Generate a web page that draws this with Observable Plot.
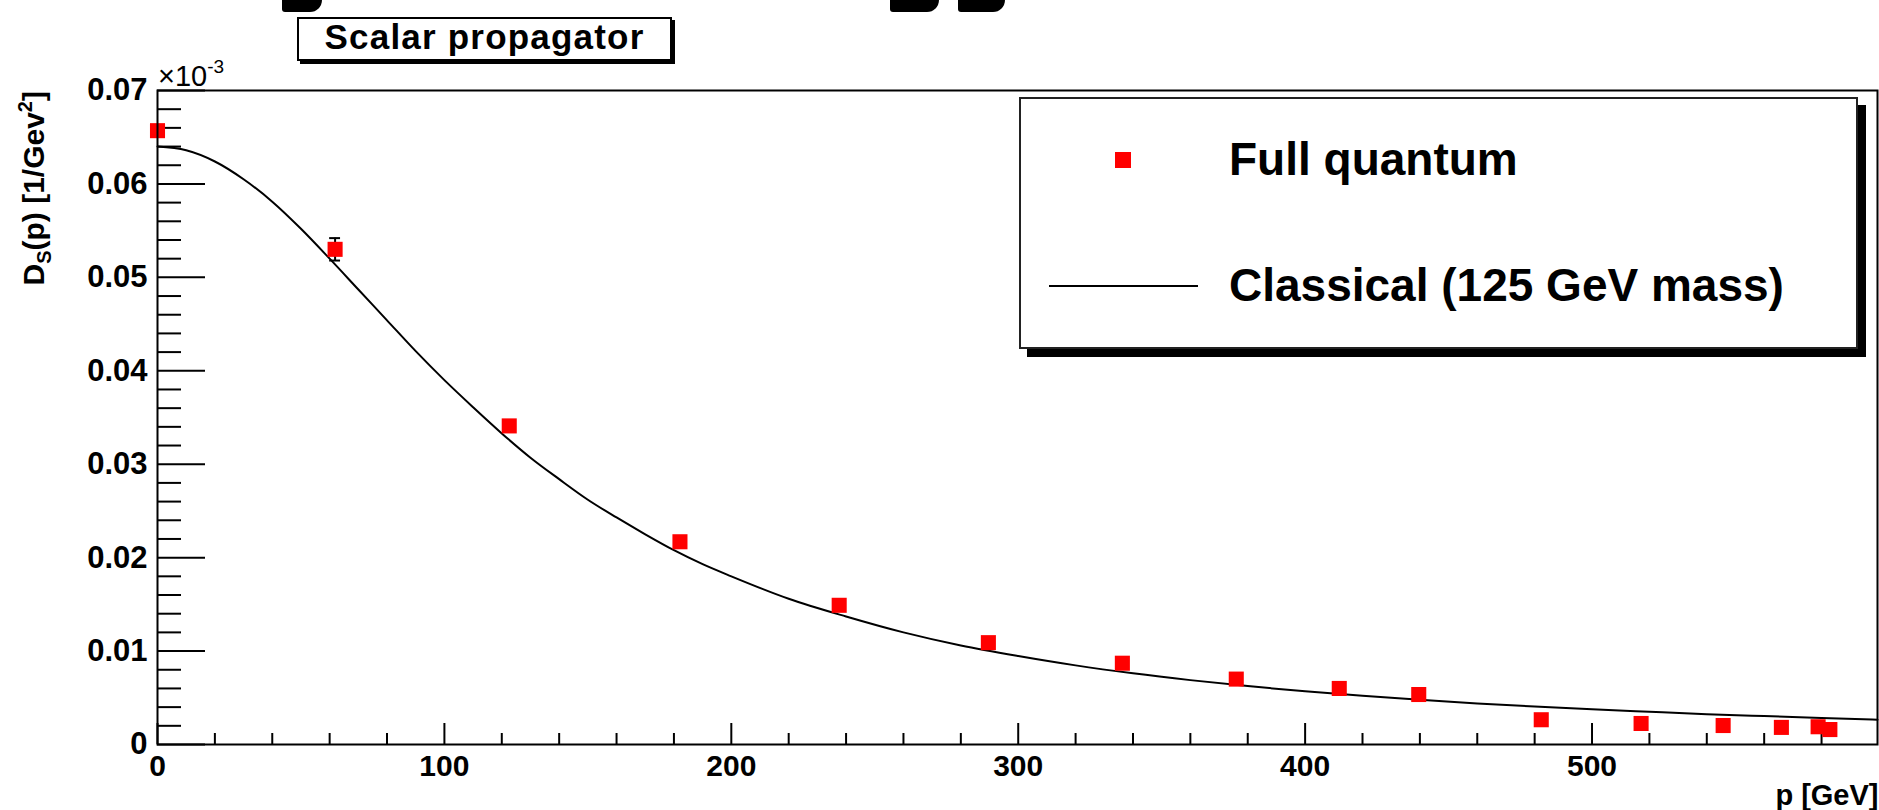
<!DOCTYPE html>
<html>
<head>
<meta charset="utf-8">
<script src="https://cdn.jsdelivr.net/npm/d3@7"></script>
<script src="https://cdn.jsdelivr.net/npm/@observablehq/plot@0.6"></script>
<style>
  body { margin: 0; background: #fff; }
  #wrap { position: relative; width: 1879px; height: 810px; overflow: hidden; background: #fff;
          font-family: "Liberation Sans", Arial, Helvetica, sans-serif; }
  #wrap svg.plot { position: absolute; left: 0; top: 0; }
  .blob { position: absolute; top: -10px; height: 22px; background: #000; border-radius: 0 0 12px 3px; }
  #titlebox { position: absolute; left: 297px; top: 17px; width: 371px; height: 40px;
              border: 2px solid #000; box-shadow: 3px 3px 0 #000; background: #fff; }
  #titlebox span { position: absolute; left: 0; right: 0; top: 0px; height: 35px; text-align: center;
                   font-weight: bold; font-size: 35px; letter-spacing: 1.2px; line-height: 1; white-space: nowrap; }
  #legend { position: absolute; left: 1019px; top: 97px; width: 835px; height: 248px;
            border: 2px solid #222; box-shadow: 8px 8px 0 #000; background: #fff; }
  .legtext { position: absolute; font-weight: bold; font-size: 46px; line-height: 1.149; white-space: nowrap; }
  .legsq { position: absolute; background: #ff0000; }
  .legline { position: absolute; background: #000; }
</style>
</head>
<body>
<div id="wrap"></div>
<script>
// ---- data ----
const momentum = [0, 61.9, 122.6, 182.1, 237.6, 289.6, 336.3, 376.0, 411.9, 439.6, 482.3, 517.1, 545.7, 566.0, 578.8, 582.9];
const quantumD = [0.0657, 0.0530, 0.0341, 0.0217, 0.0149, 0.0109, 0.0087, 0.0070, 0.0060, 0.00535, 0.00265, 0.00225, 0.00203, 0.00183, 0.00190, 0.00160];
const quantumErr = [0, 0.0012, 0, 0, 0, 0, 0, 0, 0, 0, 0, 0, 0, 0, 0, 0];

const classicalP = [0, 10, 20, 30, 40, 50, 60, 70, 80, 90, 100, 110, 120, 130, 140, 150, 160, 170, 180, 190, 200,
                    220, 240, 260, 280, 300, 320, 340, 360, 380, 400, 420, 440, 460, 480, 500, 520, 540, 560, 580, 599.5];
const classicalD = [0.0640, 0.0636, 0.0624, 0.0605, 0.0581, 0.0552, 0.0520, 0.0487, 0.0454, 0.0421, 0.0390,
                    0.0361, 0.0333, 0.0307, 0.0284, 0.0262, 0.0243, 0.0225, 0.0208, 0.0193, 0.0180,
                    0.0156, 0.0137, 0.0120, 0.0106, 0.00947, 0.00847, 0.00762, 0.00689, 0.00625, 0.00569,
                    0.00521, 0.00478, 0.00440, 0.00406, 0.00376, 0.00350, 0.00325, 0.00304, 0.00284, 0.00266];

const yMajorTicks = [0, 0.01, 0.02, 0.03, 0.04, 0.05, 0.06, 0.07];
const yMinorTicks = [0.002, 0.004, 0.006, 0.008, 0.012, 0.014, 0.016, 0.018, 0.022, 0.024, 0.026, 0.028,
                     0.032, 0.034, 0.036, 0.038, 0.042, 0.044, 0.046, 0.048, 0.052, 0.054, 0.056, 0.058,
                     0.062, 0.064, 0.066, 0.068];
const yTickLabels = ["0", "0.01", "0.02", "0.03", "0.04", "0.05", "0.06", "0.07"];
const xMajorTicks = [0, 100, 200, 300, 400, 500];
const xMinorTicks = [20, 40, 60, 80, 120, 140, 160, 180, 220, 240, 260, 280, 320, 340, 360, 380,
                     420, 440, 460, 480, 520, 540, 560, 580];
const xTickLabels = ["0", "100", "200", "300", "400", "500"];

const titleText = "Scalar propagator";
const xTitle = "p [GeV]";
const legendLabels = ["Full quantum", "Classical (125 GeV mass)"];

// ---- build tables ----
const points = momentum.map((p, i) => ({p, d: quantumD[i], e: quantumErr[i]}));
const errPoints = points.filter(d => d.e > 0);
const classical = classicalP.map((p, i) => ({p, d: classicalD[i]}));

const W = 1879, H = 810, ML = 157, MR = 2, MT = 90, MB = 66;
const FW = W - ML - MR, FH = H - MT - MB;
const FONT = '"Liberation Sans", Arial, Helvetica, sans-serif';

function yTitleMark() {
  return (index, scales, values, dims) => {
    const t = d3.create("svg:text")
      .attr("transform", `translate(44, ${dims.marginTop + 1}) rotate(-90)`)
      .attr("text-anchor", "end")
      .style("font-size", "30px").style("font-weight", "bold").attr("fill", "#000");
    t.append("tspan").text("D");
    t.append("tspan").attr("dy", 7).style("font-size", "20px").text("S");
    t.append("tspan").attr("dy", -7).text("(p) [1/Gev");
    t.append("tspan").attr("dy", -12).style("font-size", "20px").text("2");
    t.append("tspan").attr("dy", 12).text("]");
    return t.node();
  };
}
function exponentMark() {
  return (index, scales, values, dims) => {
    const t = d3.create("svg:text")
      .attr("x", dims.marginLeft + 1).attr("y", dims.marginTop - 4)
      .attr("text-anchor", "start")
      .style("font-size", "29px").style("font-weight", "normal").attr("fill", "#000");
    t.append("tspan").text("\u00d710");
    t.append("tspan").attr("dy", -13).style("font-size", "19px").text("-3");
    return t.node();
  };
}

const chart = Plot.plot({
  width: W, height: H,
  marginLeft: ML, marginRight: MR, marginTop: MT, marginBottom: MB,
  x: {domain: [0, 599.5]},
  y: {domain: [0, 0.07]},
  style: {fontFamily: FONT, fontSize: "28px", fontWeight: "bold", background: "transparent", overflow: "visible", color: "#000"},
  marks: [
    Plot.tickY(yMinorTicks, {y: d => d, insetRight: FW - 24, stroke: "#000", strokeWidth: 2}),
    Plot.tickY(yMajorTicks, {y: d => d, insetRight: FW - 48, stroke: "#000", strokeWidth: 2}),
    Plot.tickX(xMinorTicks, {x: d => d, insetTop: FH - 11, stroke: "#000", strokeWidth: 2}),
    Plot.tickX(xMajorTicks, {x: d => d, insetTop: FH - 21, stroke: "#000", strokeWidth: 2}),
    Plot.axisY(yMajorTicks, {tickSize: 0, tickPadding: 10, label: null,
      tickFormat: d => yTickLabels[yMajorTicks.indexOf(d)], fontSize: 31, fill: "#000"}),
    Plot.axisX(xMajorTicks, {tickSize: 0, tickPadding: 10, label: null,
      tickFormat: d => xTickLabels[xMajorTicks.indexOf(d)], fontSize: 30, fill: "#000"}),
    Plot.text([xTitle], {text: d => d, frameAnchor: "bottom-right", textAnchor: "end", lineAnchor: "middle",
      dy: 51, dx: 1, fontSize: 29, fontWeight: "bold", fill: "#000"}),
    Plot.line(classical, {x: "p", y: "d", stroke: "#000", strokeWidth: 2, curve: "monotone-x"}),
    Plot.ruleX(errPoints, {x: "p", y1: d => d.d - d.e, y2: d => d.d + d.e, stroke: "#000", strokeWidth: 2}),
    Plot.ruleY(errPoints, {y: d => d.d + d.e, x1: d => d.p - 1.9, x2: d => d.p + 1.9, stroke: "#000", strokeWidth: 2}),
    Plot.ruleY(errPoints, {y: d => d.d - d.e, x1: d => d.p - 1.9, x2: d => d.p + 1.9, stroke: "#000", strokeWidth: 2}),
    Plot.dot(points, {x: "p", y: "d", symbol: "square", r: 8.5, fill: "#ff0000"}),
    Plot.frame({stroke: "#000", strokeWidth: 2}),
    yTitleMark(),
    exponentMark()
  ]
});
chart.classList.add("plot");

const wrap = document.getElementById("wrap");
wrap.appendChild(chart);

// cropped fragments of a larger heading at the very top
[[282, 40], [890, 49], [958, 47]].forEach(([l, w]) => {
  const b = document.createElement("div");
  b.className = "blob"; b.style.left = l + "px"; b.style.width = w + "px";
  wrap.appendChild(b);
});

// title box
const tb = document.createElement("div");
tb.id = "titlebox";
tb.innerHTML = `<span>${titleText}</span>`;
wrap.appendChild(tb);

// legend
const lg = document.createElement("div");
lg.id = "legend";
wrap.appendChild(lg);
function addAbs(cls, l, t, w, h, text) {
  const e = document.createElement("div");
  e.className = cls;
  e.style.left = l + "px"; e.style.top = t + "px";
  if (w != null) e.style.width = w + "px";
  if (h != null) e.style.height = h + "px";
  if (text != null) e.textContent = text;
  wrap.appendChild(e);
  return e;
}
addAbs("legsq", 1115, 152, 16, 16);
addAbs("legtext", 1229, 175 - 0.905 * 46, null, null, legendLabels[0]);
addAbs("legline", 1049, 285, 149, 2);
addAbs("legtext", 1229, 301 - 0.905 * 46, null, null, legendLabels[1]);
</script>
</body>
</html>
